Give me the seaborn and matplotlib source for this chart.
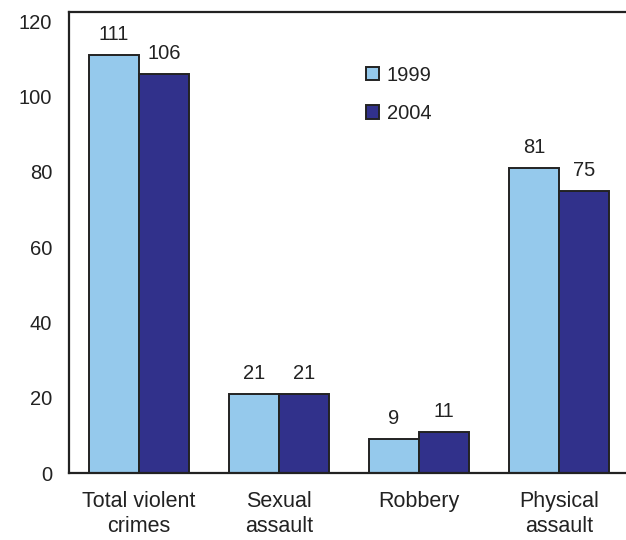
import pandas as pd
import matplotlib
matplotlib.use("Agg")
import matplotlib.pyplot as plt
import seaborn as sns

categories = ["Total violent\ncrimes", "Sexual\nassault", "Robbery", "Physical\nassault"]
values_1999 = [111, 21, 9, 81]
values_2004 = [106, 21, 11, 75]
years = ["1999", "2004"]

df = pd.DataFrame({
    "category": categories * 2,
    "year": [years[0]] * 4 + [years[1]] * 4,
    "value": values_1999 + values_2004,
})

sns.set_style("white")
plt.rcParams["font.family"] = ["Liberation Sans", "DejaVu Sans"]
txt = "#222222"

fig = plt.figure(figsize=(6.26, 5.4), dpi=100)
ax = fig.add_axes([0.110, 0.124, 0.89, 0.854])

palette = {"1999": "#95c9ec", "2004": "#31318b"}
sns.barplot(data=df, x="category", y="value", hue="year", palette=palette,
            width=0.714, edgecolor=txt, linewidth=1.4, saturation=1,
            ax=ax)

for cont in ax.containers:
    ax.bar_label(cont, fmt="%d", padding=8, fontsize=14.5, color=txt)

ax.set_ylim(0, 122.5)
ax.set_xlim(-0.5, 3.48)
ax.set_yticks(range(0, 121, 20))
ax.set_xlabel("")
ax.set_ylabel("")
ax.tick_params(axis="y", direction="in", length=5, width=1.2, labelsize=14.5,
               colors=txt, pad=12)
ax.tick_params(axis="x", length=0, labelsize=15.5, colors=txt, pad=13)
for lab in ax.get_xticklabels():
    lab.set_linespacing(1.25)

for side in ["left", "bottom", "top"]:
    ax.spines[side].set_color(txt)
    ax.spines[side].set_linewidth(1.6)
ax.spines["right"].set_visible(False)

leg = ax.legend(loc="upper left", bbox_to_anchor=(0.533, 0.883), frameon=False,
                fontsize=14.5, handlelength=0.65, handleheight=0.65,
                handletextpad=0.4, labelspacing=0.95, borderpad=0,
                borderaxespad=0)
for t in leg.get_texts():
    t.set_color(txt)

fig.savefig("out.png", dpi=100)
